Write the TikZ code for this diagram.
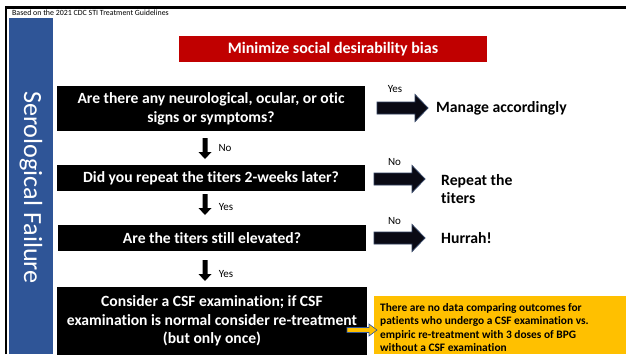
\documentclass[tikz,border=0pt]{standalone}
\usepackage{fontspec}
\setmainfont[Ligatures=NoCommon]{Carlito}
\definecolor{barblue}{HTML}{2F5597}
\definecolor{boxred}{HTML}{C00000}
\definecolor{noteyellow}{HTML}{FFC000}
\definecolor{arrowline}{HTML}{2F3F5F}
\definecolor{arrowfill}{HTML}{0A0A14}
\tikzset{
  qbox/.style={fill=black, text=white, font=\bfseries\fontsize{15.6}{19}\selectfont, align=center, inner sep=0pt},
  lbl/.style={font=\fontsize{11}{12}\selectfont, inner sep=0pt},
  outtext/.style={font=\bfseries\fontsize{15.7}{18.5}\selectfont, align=left, inner sep=0pt, anchor=west},
  rblock/.pic={\draw[arrowline, fill=arrowfill, line width=0.8pt] (0,-6) -- (38,-6) -- (38,-13.5) -- (51,0) -- (38,13.5) -- (38,6) -- (0,6) -- cycle;},
  dblock/.pic={\fill[black] (-2.5,0) -- (-2.5,14) -- (-6.5,14) -- (0,21) -- (6.5,14) -- (2.5,14) -- (2.5,0) -- cycle;},
  yblock/.pic={\draw[barblue, fill=noteyellow, line width=0.6pt] (0,-2.5) -- (22,-2.5) -- (22,-6) -- (30,0) -- (22,6) -- (22,2.5) -- (0,2.5) -- cycle;}
}
\begin{document}
\begin{tikzpicture}[x=1pt,y=-1pt]
\useasboundingbox (0,0) rectangle (626,354);
\fill[white] (0,0) rectangle (626,354);
\draw[line width=2.4pt] (6,354) -- (6,7.5) -- (626,7.5);
\fill[barblue] (9,18) rectangle (53,354);
\node[anchor=west, font=\fontsize{7.9}{8.5}\selectfont, inner sep=0pt] (hdr) at (12,13) {Based on the 2021 CDC STI Treatment Guidelines};
\node[rotate=-90, text=white, font=\fontsize{26.2}{30}\selectfont, inner sep=0pt] (side) at (31,187.5) {Serological Failure};
\node[fill=boxred, text=white, font=\bfseries\fontsize{16}{18}\selectfont, minimum width=308pt, minimum height=26pt, inner sep=0pt] (bias) at (333,49) {Minimize social desirability bias};
\node[qbox, minimum width=308pt, minimum height=45pt] (q1) at (211,108.5) {Are there any neurological, ocular, or otic\\signs or symptoms?};
\node[qbox, minimum width=308pt, minimum height=26pt] (q2) at (211,178) {Did you repeat the titers 2-weeks later?};
\node[qbox, minimum width=308pt, minimum height=26pt] (q3) at (212,238) {Are the titers still elevated?};
\node[qbox, minimum width=310pt, minimum height=68pt, font=\bfseries\fontsize{15.6}{18.5}\selectfont] (q4) at (212,321) {Consider a CSF examination; if CSF\\examination is normal consider re-treatment\\(but only once)};
\pic at (205,138) {dblock};
\pic at (205,194) {dblock};
\pic at (205,260) {dblock};
\node[lbl] (n1) at (225,148) {No};
\node[lbl] (y1) at (226,207) {Yes};
\node[lbl] (y2) at (226,274) {Yes};
\pic at (377,108) {rblock};
\pic at (374,179) {rblock};
\pic at (374,238) {rblock};
\node[lbl] (y0) at (395,89) {Yes};
\node[lbl] (n2) at (394.5,162) {No};
\node[lbl] (n3) at (394.5,221) {No};
\node[outtext] (manage) at (436,108) {Manage accordingly};
\node[outtext] (repeat) at (441,189) {Repeat the\\titers};
\node[outtext] (hurrah) at (441,238) {Hurrah!};
\fill[noteyellow] (374,296) rectangle (626,354);
\node[anchor=west, font=\bfseries\fontsize{11.4}{13.2}\selectfont, align=left, inner sep=0pt] (note) at (380,327.5) {There are no data comparing outcomes for\\patients who undergo a CSF examination vs.\\empiric re-treatment with 3 doses of BPG\\without a CSF examination};
\pic at (347,330) {yblock};
\end{tikzpicture}
\end{document}
